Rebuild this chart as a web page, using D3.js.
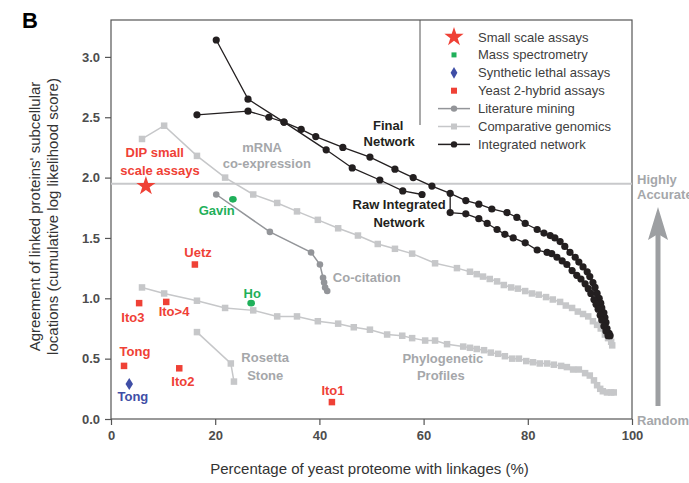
<!DOCTYPE html>
<html>
<head>
<meta charset="utf-8">
<script src="https://cdn.jsdelivr.net/npm/d3@7"></script>
<style>
body { margin: 0; background: #fff; }
text { font-family: "Liberation Sans", Arial, sans-serif; }
</style>
</head>
<body>
<script>
// ---- data (x = % of proteome, y = log likelihood score)
var xTicks = [0, 20, 40, 60, 80, 100];
var yTicks = [0, 0.5, 1, 1.5, 2, 2.5, 3];
var accuracyCutoff = 1.95;

var rawNetwork = [[20.2,3.14],[26.3,2.65],[33.2,2.46],[41.3,2.23],[46.3,2.08],[51.6,1.98],[56.0,1.89],[59.7,1.86]];

var finalNetwork = [[16.5,2.52],[26.3,2.55],[30.3,2.50],[33.2,2.46],[36.5,2.40],[39.3,2.34],[44.5,2.25],[49.7,2.17],
  [54.5,2.07],[58.0,2.00],[61.6,1.93],[65.1,1.87],[68.1,1.81],[70.6,1.78],[73.1,1.74],[76.0,1.71],[77.9,1.67],
  [79.5,1.62],[81.8,1.57],[83.1,1.54],[84.3,1.52],[85.2,1.50],[86.2,1.47],[87.1,1.43],[88.1,1.38],[89.1,1.34],
  [89.8,1.30],[90.6,1.26],[91.4,1.22],[91.9,1.18],[92.5,1.13],[92.9,1.09],[93.3,1.04],[93.7,1.00],[94.0,0.96],
  [94.2,0.92],[94.6,0.88],[94.8,0.84],[95.0,0.80],[95.2,0.75],[95.6,0.71],[95.8,0.69]];

var finalLower = [[65.1,1.87],[65.1,1.71],[68.1,1.70],[70.6,1.66],[72.2,1.62],[74.1,1.57],[75.6,1.53],[77.2,1.50],
  [79.5,1.46],[81.8,1.40],[83.7,1.38],[84.6,1.37],[85.6,1.34],[86.6,1.31],[87.5,1.28],[88.5,1.23],[89.4,1.19],
  [90.2,1.16],[91.0,1.12],[91.6,1.08],[92.1,1.04],[92.7,0.99],[93.1,0.95],[93.5,0.91],[93.9,0.86],[94.2,0.82],
  [94.6,0.77],[95.0,0.73],[95.4,0.69]];

var mrnaCoexpr = [[5.95,2.32],[10.2,2.43],[16.5,2.18],[21.9,2.00],[27.3,1.86],[31.9,1.79],[35.7,1.72],[39.7,1.65],
  [43.6,1.58],[47.4,1.52],[51.2,1.45],[54.5,1.41],[57.8,1.37],[62.2,1.29],[66.4,1.25],[68.9,1.22],[70.2,1.20],
  [71.4,1.18],[72.7,1.16],[74.1,1.14],[75.4,1.11],[76.8,1.09],[78.1,1.08],[79.5,1.06],[80.8,1.04],[82.1,1.03],
  [83.5,1.01],[84.8,0.99],[86.2,0.97],[87.3,0.94],[88.5,0.92],[89.6,0.89],[90.6,0.87],[91.6,0.85],[92.5,0.81],
  [93.3,0.78],[94.0,0.75],[94.8,0.70],[95.4,0.67],[96.0,0.64],[96.2,0.61]];

var phyloProfiles = [[5.95,1.09],[10.2,1.04],[16.5,0.98],[21.9,0.92],[27.3,0.90],[31.9,0.85],[35.7,0.85],[39.7,0.81],
  [43.6,0.79],[46.6,0.76],[49.7,0.74],[53.0,0.70],[55.9,0.69],[57.8,0.67],[60.3,0.65],[62.2,0.65],[64.5,0.62],
  [67.6,0.60],[68.9,0.59],[70.2,0.58],[71.6,0.57],[72.9,0.55],[74.3,0.54],[75.6,0.52],[77.0,0.50],[78.3,0.50],
  [79.7,0.48],[81.0,0.47],[82.3,0.46],[83.7,0.46],[85.0,0.45],[86.4,0.44],[87.5,0.43],[88.7,0.41],[89.8,0.41],
  [91.0,0.38],[91.9,0.36],[92.7,0.32],[93.3,0.28],[93.9,0.25],[94.4,0.23],[95.2,0.22],[96.0,0.22],[96.5,0.22]];

var rosettaStone = [[16.5,0.72],[23.0,0.46],[23.6,0.31]];

var coCitation = [[20.2,1.86],[30.5,1.55],[38.4,1.38],[40.1,1.28],[40.7,1.17],[40.9,1.13],[41.1,1.09],[41.5,1.06]];

var smallScale = [[6.7,1.93]];
var massSpec = [[23.4,1.82],[26.9,0.96]];
var synLethal = [[3.5,0.29]];
var yeast2Hybrid = [[16.1,1.28],[5.4,0.96],[10.6,0.97],[2.5,0.44],[13.1,0.42],[42.4,0.14]];

var legendNames = ["Small scale assays", "Mass spectrometry", "Synthetic lethal assays", "Yeast 2-hybrid assays",
  "Literature mining", "Comparative genomics", "Integrated network"];

var red = "#ef4136", green = "#1fb05a", blue = "#3f4ea6",
    lightGrey = "#c6c7c9", midGrey = "#939599", labelGrey = "#a5a7aa", black = "#231f20";

// text labels: [text, x, y, colour]
var labels = [
  ["DIP small", 8.4, 2.21, red], ["scale assays", 9.4, 2.06, red],
  ["mRNA", 29.0, 2.25, labelGrey], ["co-expression", 29.9, 2.12, labelGrey],
  ["Gavin", 20.3, 1.73, green], ["Uetz", 16.7, 1.38, red], ["Ho", 27.1, 1.04, green],
  ["Ito3", 4.2, 0.84, red], ["Ito>4", 12.1, 0.89, red], ["Tong", 4.6, 0.56, red],
  ["Ito2", 13.8, 0.31, red], ["Tong", 4.2, 0.19, blue], ["Ito1", 42.6, 0.24, red],
  ["Rosetta", 29.6, 0.51, labelGrey], ["Stone", 29.6, 0.36, labelGrey],
  ["Co-citation", 49.1, 1.17, labelGrey],
  ["Phylogenetic", 63.7, 0.50, labelGrey], ["Profiles", 63.3, 0.36, labelGrey],
  ["Final", 53.2, 2.43, black], ["Network", 53.4, 2.30, black],
  ["Raw Integrated", 55.3, 1.78, black], ["Network", 55.3, 1.63, black]
];

var width = 689, height = 483,
    margin = {top: 20, right: 57, bottom: 64, left: 111},
    innerW = width - margin.left - margin.right,
    innerH = height - margin.top - margin.bottom;

var x = d3.scaleLinear().domain([0, 100]).range([0, innerW]);
var y = d3.scaleLinear().domain([0, innerH / 120.7]).range([innerH, 0]);

var svg = d3.select("body").append("svg")
    .attr("width", width)
    .attr("height", height);

svg.append("text")
    .attr("x", 22).attr("y", 28)
    .style("font-size", "22px").style("font-weight", "bold")
    .text("B");

var g = svg.append("g")
    .attr("transform", "translate(" + margin.left + "," + margin.top + ")");

// frame + cutoff line
g.append("rect")
    .attr("width", innerW).attr("height", innerH)
    .attr("fill", "none").attr("stroke", "#555").attr("stroke-width", 1.2);

g.append("line")
    .attr("x1", 0).attr("x2", innerW)
    .attr("y1", y(accuracyCutoff)).attr("y2", y(accuracyCutoff))
    .attr("stroke", "#c8c9cb").attr("stroke-width", 2);

// axes
var xAxis = g.append("g")
    .attr("transform", "translate(0," + innerH + ")")
    .call(d3.axisBottom(x).tickValues(xTicks).tickSize(6).tickPadding(6));
var yAxis = g.append("g")
    .call(d3.axisLeft(y).tickValues(yTicks).tickFormat(d3.format(".1f")).tickSize(6).tickPadding(5));

[xAxis, yAxis].forEach(function(a) {
    a.select(".domain").remove();
    a.selectAll("line").attr("stroke", "#555").attr("stroke-width", 1.2);
    a.selectAll("text")
        .style("font-family", "'Liberation Sans', Arial, sans-serif")
        .style("font-size", "13px").style("font-weight", "bold").attr("fill", "#4d4d4d");
});

svg.append("text")
    .attr("x", margin.left + x(50) - 2).attr("y", 474)
    .attr("text-anchor", "middle")
    .style("font-size", "15px").attr("fill", "#333")
    .text("Percentage of yeast proteome with linkages (%)");

var yTitle = svg.append("text")
    .attr("transform", "translate(40," + (margin.top + innerH / 2 - 3) + ") rotate(-90)")
    .attr("text-anchor", "middle")
    .style("font-size", "15px").attr("fill", "#333");
yTitle.append("tspan").attr("x", 0).attr("dy", 0).text("Agreement of linked proteins' subcellular");
yTitle.append("tspan").attr("x", 0).attr("dy", 18).text("locations (cumulative log likelihood score)");

// right side: accuracy arrow
svg.append("text").attr("x", margin.left + innerW + 5).attr("y", margin.top + y(1.99) + 5)
    .style("font-size", "13px").style("font-weight", "bold").attr("fill", labelGrey).text("Highly");
svg.append("text").attr("x", margin.left + innerW + 5).attr("y", margin.top + y(1.86) + 5)
    .style("font-size", "13px").style("font-weight", "bold").attr("fill", labelGrey).text("Accurate");
svg.append("text").attr("x", margin.left + innerW + 5).attr("y", margin.top + y(0) + 6)
    .style("font-size", "13px").style("font-weight", "bold").attr("fill", labelGrey).text("Random");

var ax = margin.left + innerW + 26;
svg.append("rect").attr("x", ax - 2.5).attr("y", 232).attr("width", 5).attr("height", 174).attr("fill", "#9d9fa2");
svg.append("path")
    .attr("d", "M" + ax + ",207 L" + (ax + 10) + ",240 L" + ax + ",234 L" + (ax - 10) + ",240 Z")
    .attr("fill", "#9d9fa2");

// series
var line = d3.line().x(function(d) { return x(d[0]); }).y(function(d) { return y(d[1]); });

function drawLine(data, color, w) {
    g.append("path").datum(data)
        .attr("d", line).attr("fill", "none")
        .attr("stroke", color).attr("stroke-width", w);
}
function drawSquares(data, color, s) {
    g.selectAll(null).data(data).enter().append("rect")
        .attr("x", function(d) { return x(d[0]) - s / 2; })
        .attr("y", function(d) { return y(d[1]) - s / 2; })
        .attr("width", s).attr("height", s).attr("fill", color);
}
function drawDots(data, color, r) {
    g.selectAll(null).data(data).enter().append("circle")
        .attr("cx", function(d) { return x(d[0]); })
        .attr("cy", function(d) { return y(d[1]); })
        .attr("r", r).attr("fill", color);
}

drawLine(mrnaCoexpr, lightGrey, 1.5); drawSquares(mrnaCoexpr, lightGrey, 6.5);
drawLine(phyloProfiles, lightGrey, 1.5); drawSquares(phyloProfiles, lightGrey, 6.5);
drawLine(rosettaStone, lightGrey, 1.5); drawSquares(rosettaStone, lightGrey, 6.5);
drawLine(coCitation, midGrey, 1.5); drawDots(coCitation, midGrey, 3.3);

drawLine(rawNetwork, black, 1.3); drawDots(rawNetwork, black, 3.6);
drawLine(finalNetwork, black, 1.3); drawDots(finalNetwork, black, 3.6);
drawLine(finalLower, black, 1.3); drawDots(finalLower.slice(1), black, 3.6);

// single assays
var star = d3.symbol().type(d3.symbolStar).size(115);
g.selectAll(null).data(smallScale).enter().append("path")
    .attr("d", star).attr("fill", red)
    .attr("transform", function(d) { return "translate(" + x(d[0]) + "," + y(d[1]) + ")"; });
g.selectAll(null).data(massSpec).enter().append("ellipse")
    .attr("cx", function(d) { return x(d[0]); }).attr("cy", function(d) { return y(d[1]); })
    .attr("rx", 3.8).attr("ry", 3.3).attr("fill", green);
g.selectAll(null).data(synLethal).enter().append("path")
    .attr("d", d3.symbol().type(d3.symbolDiamond).size(40)).attr("fill", blue)
    .attr("transform", function(d) { return "translate(" + x(d[0]) + "," + y(d[1]) + ") scale(1.1,1)"; });
drawSquares(yeast2Hybrid, red, 6.5);

// labels
g.selectAll(null).data(labels).enter().append("text")
    .attr("x", function(d) { return x(d[1]); })
    .attr("y", function(d) { return y(d[2]); })
    .attr("dy", "0.36em")
    .attr("text-anchor", "middle")
    .style("font-size", "13px").style("font-weight", "bold")
    .attr("fill", function(d) { return d[3]; })
    .text(function(d) { return d[0]; });

// legend
var lg = svg.append("g");
lg.append("line").attr("x1", 420).attr("x2", 420).attr("y1", margin.top).attr("y2", 125)
    .attr("stroke", "#555").attr("stroke-width", 1);

var row = lg.selectAll(".row").data(legendNames).enter().append("g")
    .attr("class", "row")
    .attr("transform", function(d, i) { return "translate(454," + (37 + i * 17.9) + ")"; });

row.append("text").attr("x", 24).attr("dy", "0.35em")
    .style("font-size", "13px").attr("fill", "#404040")
    .text(function(d) { return d; });

row.each(function(d, i) {
    var r = d3.select(this);
    if (i === 0) r.append("path").attr("d", star).attr("fill", red);
    if (i === 1) r.append("rect").attr("x", -2.5).attr("y", -2.5).attr("width", 5).attr("height", 5).attr("fill", green);
    if (i === 2) r.append("path").attr("d", d3.symbol().type(d3.symbolDiamond).size(40)).attr("fill", blue);
    if (i === 3) r.append("rect").attr("x", -3).attr("y", -3).attr("width", 6).attr("height", 6).attr("fill", red);
    if (i >= 4) {
        var c = [midGrey, lightGrey, black][i - 4];
        r.append("line").attr("x1", -16).attr("x2", 16).attr("stroke", c).attr("stroke-width", 1.5);
        if (i === 5) r.append("rect").attr("x", -3).attr("y", -3).attr("width", 6).attr("height", 6).attr("fill", c);
        else r.append("circle").attr("r", 3.2).attr("fill", c);
    }
});
</script>
</body>
</html>
